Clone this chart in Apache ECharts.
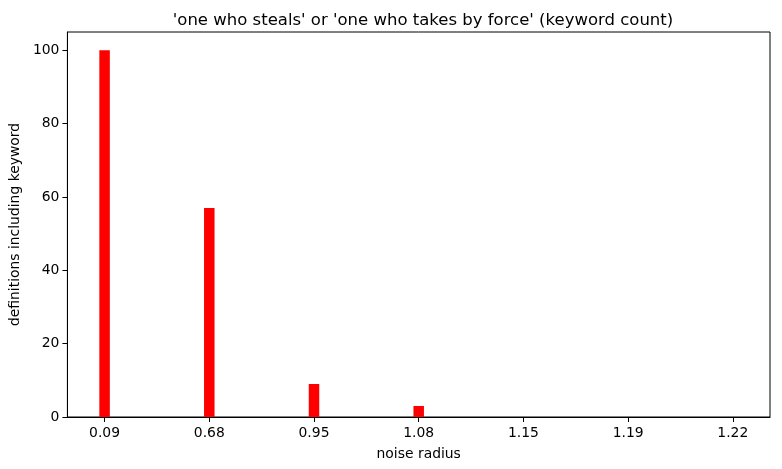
<!DOCTYPE html>
<html>
<head>
<meta charset="utf-8">
<script src="https://cdn.jsdelivr.net/npm/echarts@6/dist/echarts.min.js"></script>
<style>
  html, body { margin: 0; padding: 0; background: #fff; }
  #chart { width: 782px; height: 469px; }
</style>
</head>
<body>
<div id="chart"></div>
<script>
// Noise radius buckets and how many definitions contained the keyword
const radiusLabels = ['0.09', '0.68', '0.95', '1.08', '1.15', '1.19', '1.22'];
const keywordCounts = [100, 57, 9, 3, 0, 0, 0];
const yTicks = [0, 20, 40, 60, 80, 100];

const positions = radiusLabels.map((_, i) => i);
const barData = keywordCounts.map((v, i) => [i, v]);

const font = 'DejaVu Sans';
const chart = echarts.init(document.getElementById('chart'));
chart.setOption({
  animation: false,
  backgroundColor: '#fff',
  title: {
    text: "'one who steals' or 'one who takes by force' (keyword count)",
    left: 418,
    textAlign: 'center',
    top: 7,
    textStyle: { fontFamily: font, fontSize: 16.5, fontWeight: 'normal', color: '#000' }
  },
  grid: {
    left: 66, right: 12, top: 32, bottom: 52,
    show: true, borderColor: '#000', borderWidth: 1, backgroundColor: 'transparent'
  },
  xAxis: {
    type: 'value',
    min: -0.355,
    max: 6.355,
    name: 'noise radius',
    nameLocation: 'middle',
    nameGap: 30,
    nameTextStyle: { fontFamily: font, fontSize: 13.9, color: '#000' },
    axisLine: { show: true, onZero: false, lineStyle: { color: '#000', width: 1 } },
    axisTick: { show: true, length: 5, lineStyle: { color: '#000' }, customValues: positions },
    axisLabel: {
      fontFamily: font, fontSize: 13.9, color: '#000', margin: 9,
      customValues: positions,
      formatter: v => radiusLabels[Math.round(v)]
    },
    splitLine: { show: false }
  },
  yAxis: {
    type: 'value',
    min: 0,
    max: 105,
    name: 'definitions including keyword',
    nameLocation: 'middle',
    nameGap: 42,
    nameTextStyle: { fontFamily: font, fontSize: 13.9, color: '#000' },
    axisLine: { show: true, onZero: false, lineStyle: { color: '#000', width: 1 } },
    axisTick: { show: true, length: 5, lineStyle: { color: '#000' }, customValues: yTicks },
    axisLabel: { fontFamily: font, fontSize: 13.9, color: '#000', margin: 8, customValues: yTicks },
    splitLine: { show: false }
  },
  series: [{
    type: 'bar',
    data: barData,
    barWidth: 10.5,
    itemStyle: { color: '#ff0000' }
  }]
});
</script>
</body>
</html>
